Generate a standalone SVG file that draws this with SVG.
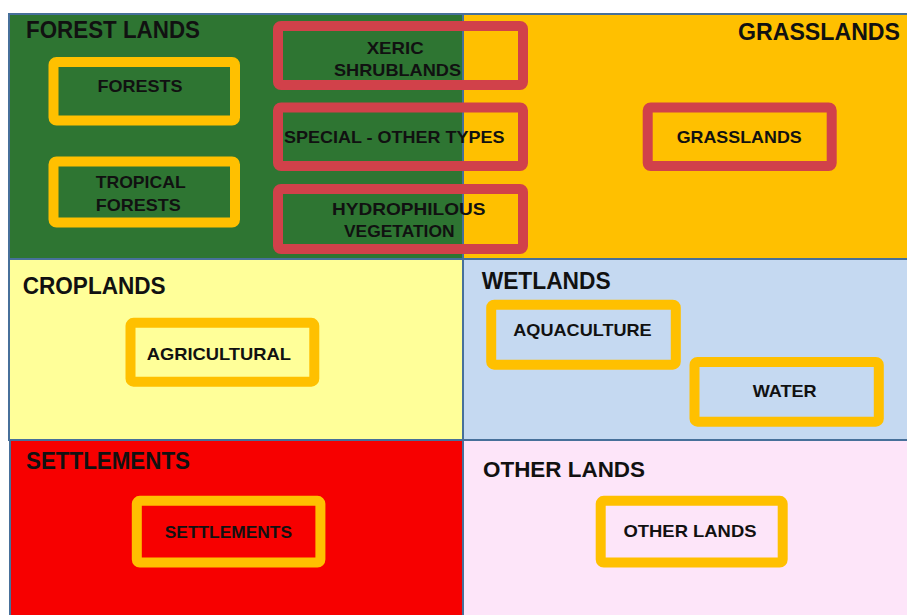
<svg xmlns="http://www.w3.org/2000/svg" width="907" height="615" viewBox="0 0 907 615">
<style>
.reg{stroke:#47709A;stroke-width:2}
.ob{fill:none;stroke:#FFC000;stroke-width:10}
.rb{fill:none;stroke:#D1414A;stroke-width:10}
.t{font-family:"Liberation Sans",Arial,sans-serif;font-weight:bold;fill:#111}
.h{font-size:24px}
.l{font-size:17px}
</style>
<rect width="907" height="615" fill="#ffffff"/>
<g id="forest-lands">
<rect class="reg" x="9" y="14" width="454" height="245" fill="#2E7532"/>
<text class="t h" x="26" y="37.7" textLength="174" lengthAdjust="spacingAndGlyphs">FOREST LANDS</text>
</g>
<g id="grasslands">
<rect class="reg" x="463" y="14" width="450" height="245" fill="#FFC000"/>
<text class="t h" x="738" y="40" textLength="162" lengthAdjust="spacingAndGlyphs">GRASSLANDS</text>
</g>
<g id="croplands">
<rect class="reg" x="9" y="259" width="454" height="181" fill="#FFFF99"/>
<text class="t h" x="22.7" y="294" textLength="143" lengthAdjust="spacingAndGlyphs">CROPLANDS</text>
</g>
<g id="wetlands">
<rect class="reg" x="463" y="259" width="450" height="181" fill="#C5D9F1"/>
<text class="t h" x="481.7" y="289.3" textLength="129" lengthAdjust="spacingAndGlyphs">WETLANDS</text>
</g>
<g id="settlements">
<rect class="reg" x="10" y="440" width="453" height="185" fill="#F70000"/>
<text class="t h" x="26" y="469.3" textLength="164" lengthAdjust="spacingAndGlyphs">SETTLEMENTS</text>
</g>
<g id="other-lands">
<rect class="reg" x="463" y="440" width="450" height="185" fill="#FDE5F9"/>
<text class="t" style="font-size:22px" x="483" y="476.7" textLength="162" lengthAdjust="spacingAndGlyphs">OTHER LANDS</text>
</g>
<g id="forests">
<rect class="ob" x="53.5" y="62" width="181.5" height="58.5" rx="3"/>
<text class="t l" x="97.5" y="91.7" textLength="85" lengthAdjust="spacingAndGlyphs">FORESTS</text>
</g>
<g id="tropical-forests">
<rect class="ob" x="53.5" y="161.5" width="181.5" height="61" rx="3"/>
<text class="t l" x="95.7" y="188.3" textLength="90" lengthAdjust="spacingAndGlyphs">TROPICAL</text>
<text class="t l" x="95.7" y="210.7" textLength="85" lengthAdjust="spacingAndGlyphs">FORESTS</text>
</g>
<g id="xeric-shrublands">
<rect class="rb" x="278" y="26" width="245" height="59" rx="3"/>
<text class="t l" x="366.7" y="54.3" textLength="57" lengthAdjust="spacingAndGlyphs">XERIC</text>
<text class="t l" x="334" y="76" textLength="127" lengthAdjust="spacingAndGlyphs">SHRUBLANDS</text>
</g>
<g id="special-other-types">
<rect class="rb" x="278" y="107.5" width="245" height="58.5" rx="3"/>
<text class="t l" x="284" y="142.7" textLength="220.5" lengthAdjust="spacingAndGlyphs">SPECIAL - OTHER TYPES</text>
</g>
<g id="hydrophilous-vegetation">
<rect class="rb" x="278" y="189" width="245" height="60" rx="3"/>
<text class="t l" x="332" y="215" textLength="153.5" lengthAdjust="spacingAndGlyphs">HYDROPHILOUS</text>
<text class="t l" x="344" y="237.3" textLength="110.5" lengthAdjust="spacingAndGlyphs">VEGETATION</text>
</g>
<g id="grasslands-box">
<rect class="rb" x="647.7" y="107.5" width="184" height="58.5" rx="3"/>
<text class="t l" x="676.7" y="143.3" textLength="125" lengthAdjust="spacingAndGlyphs">GRASSLANDS</text>
</g>
<g id="agricultural">
<rect class="ob" x="130.5" y="322.8" width="183.8" height="58.9" rx="3"/>
<text class="t l" x="146.7" y="360" textLength="144.3" lengthAdjust="spacingAndGlyphs">AGRICULTURAL</text>
</g>
<g id="aquaculture">
<rect class="ob" x="491.2" y="304.7" width="184.6" height="60" rx="3"/>
<text class="t l" x="513.3" y="336" textLength="138.4" lengthAdjust="spacingAndGlyphs">AQUACULTURE</text>
</g>
<g id="water">
<rect class="ob" x="694.5" y="362" width="184.3" height="59.7" rx="3"/>
<text class="t l" x="752.7" y="396.7" textLength="64" lengthAdjust="spacingAndGlyphs">WATER</text>
</g>
<g id="settlements-box">
<rect class="ob" x="136.8" y="500.8" width="183.6" height="61.7" rx="3"/>
<text class="t" style="font-size:16px" x="164.8" y="538.3" textLength="127.2" lengthAdjust="spacingAndGlyphs">SETTLEMENTS</text>
</g>
<g id="other-lands-box">
<rect class="ob" x="600.7" y="500.8" width="182" height="61.7" rx="3"/>
<text class="t l" x="623.5" y="537.3" textLength="133" lengthAdjust="spacingAndGlyphs">OTHER LANDS</text>
</g>
<g id="connectors"></g>
</svg>
